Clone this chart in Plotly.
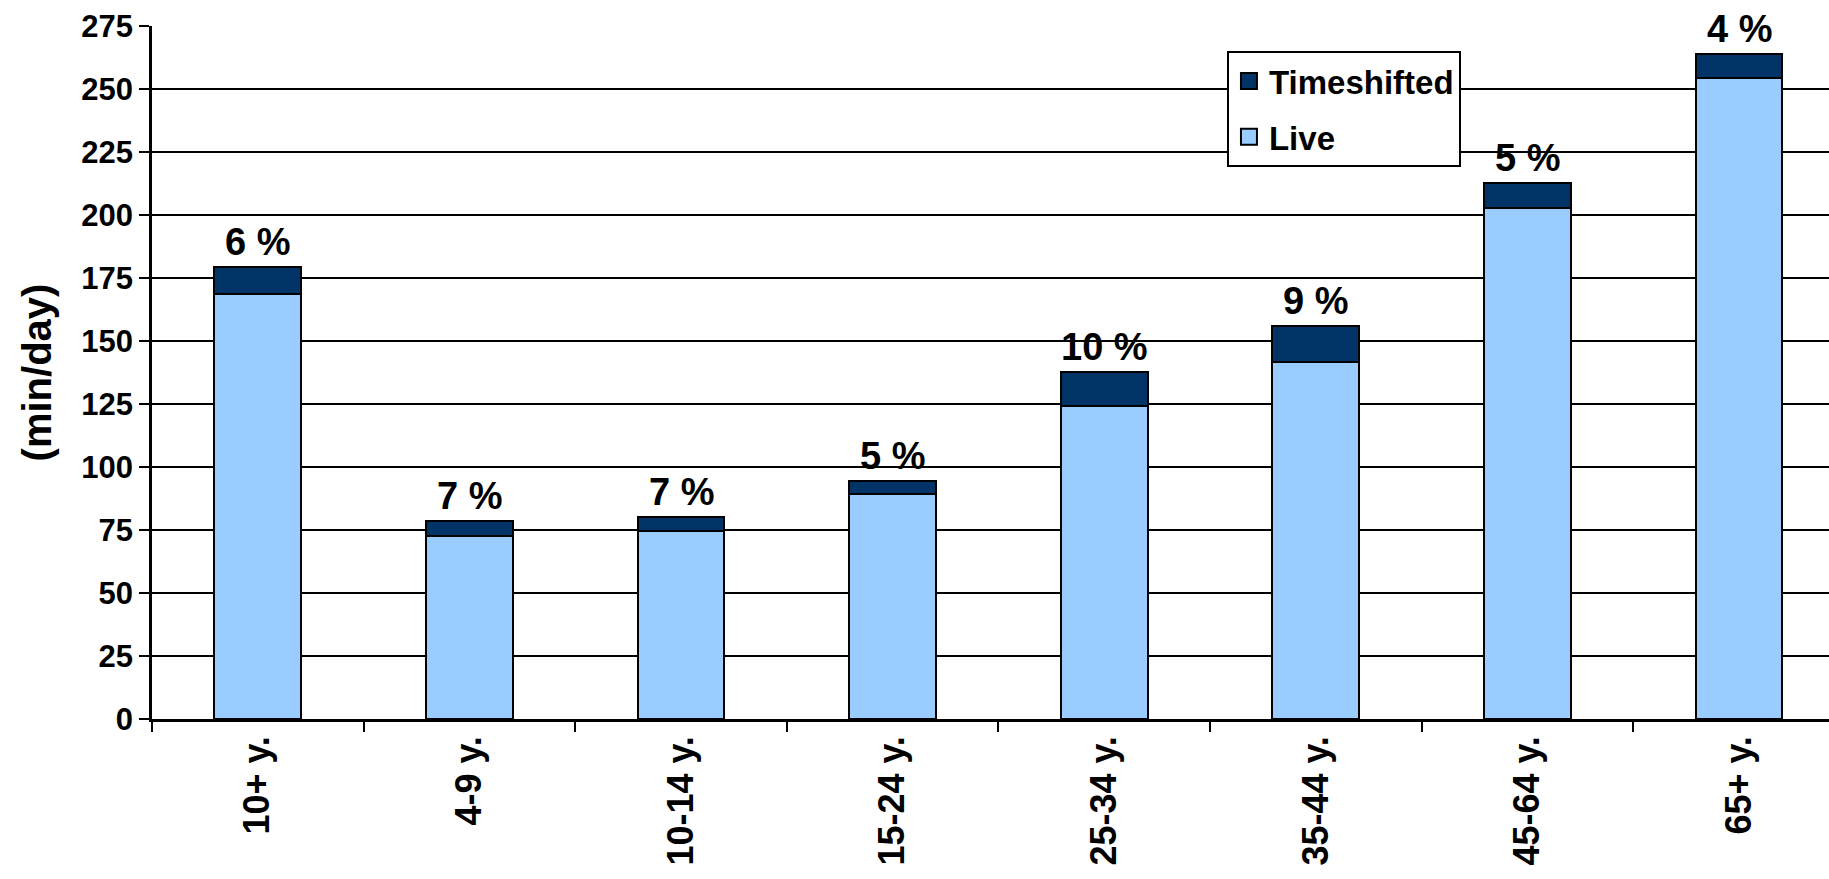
import plotly.graph_objects as go

# Daily viewing time by age group, split into live and timeshifted minutes
categories = ["10+ y.", "4-9 y.", "10-14 y.", "15-24 y.", "25-34 y.", "35-44 y.", "45-64 y.", "65+ y."]
live_min = [168.8, 72.7, 74.7, 89.3, 124.2, 141.7, 202.6, 254.3]
timeshifted_min = [10.4, 5.8, 5.5, 5.0, 13.4, 14.3, 10.2, 9.6]
share_labels = ["6 %", "7 %", "7 %", "5 %", "10 %", "9 %", "5 %", "4 %"]
y_ticks = [0, 25, 50, 75, 100, 125, 150, 175, 200, 225, 250, 275]

FONT = "Liberation Sans, Arial, sans-serif"
LIVE_COLOR = "#99CCFF"
TS_COLOR = "#003366"

totals = [a + b for a, b in zip(live_min, timeshifted_min)]

fig = go.Figure()
fig.add_trace(go.Bar(
    x=categories, y=live_min, name="Live", showlegend=False,
    marker=dict(color=LIVE_COLOR, line=dict(color="black", width=2)),
))
fig.add_trace(go.Bar(
    x=categories, y=timeshifted_min, name="Timeshifted", showlegend=False,
    marker=dict(color=TS_COLOR, line=dict(color="black", width=2)),
))

# Legend entries with larger square swatches
for name, color, rank in [("Timeshifted", TS_COLOR, 1), ("Live", LIVE_COLOR, 2)]:
    fig.add_trace(go.Scatter(
        x=[None], y=[None], mode="markers", name=name,
        legendrank=rank, legendgroup=name,
        marker=dict(symbol="square", size=16, color=color,
                    line=dict(color="black", width=2)),
    ))

# Timeshifted share written above each stacked bar
for cat, tot, lab in zip(categories, totals, share_labels):
    fig.add_annotation(
        x=cat, y=tot, text=lab, showarrow=False,
        yanchor="bottom", yshift=2,
        font=dict(family=FONT, size=38, color="black", weight="bold"),
    )

fig.update_layout(
    width=1829, height=879,
    margin=dict(l=152, r=0, t=26, b=160),
    paper_bgcolor="white", plot_bgcolor="white",
    barmode="stack", bargap=0.59,
    showlegend=True,
    legend=dict(
        x=0.641, y=0.964, xanchor="left", yanchor="top",
        traceorder="grouped", tracegroupgap=10, itemsizing="trace",
        bgcolor="white", bordercolor="black", borderwidth=2,
        font=dict(family=FONT, size=33, color="black", weight="bold"),
    ),
    xaxis=dict(
        type="category", range=[-0.5, 7.425],
        tickson="boundaries", ticks="outside", ticklen=10, tickwidth=2, tickcolor="black",
        showline=True, linecolor="black", linewidth=2.5,
        showgrid=False, tickangle=-90,
        tickfont=dict(family=FONT, size=36, color="black", weight="bold"),
    ),
    yaxis=dict(
        range=[0, 275], tickvals=y_ticks,
        ticks="outside", ticklen=10, tickwidth=2, tickcolor="black",
        showline=True, linecolor="black", linewidth=2.5,
        showgrid=True, gridcolor="black", gridwidth=2, zeroline=False,
        tickfont=dict(family=FONT, size=31, color="black", weight="bold"),
        title=dict(text="(min/day)", standoff=18,
                   font=dict(family=FONT, size=40, color="black", weight="bold")),
    ),
)

fig.write_html("out.html")
